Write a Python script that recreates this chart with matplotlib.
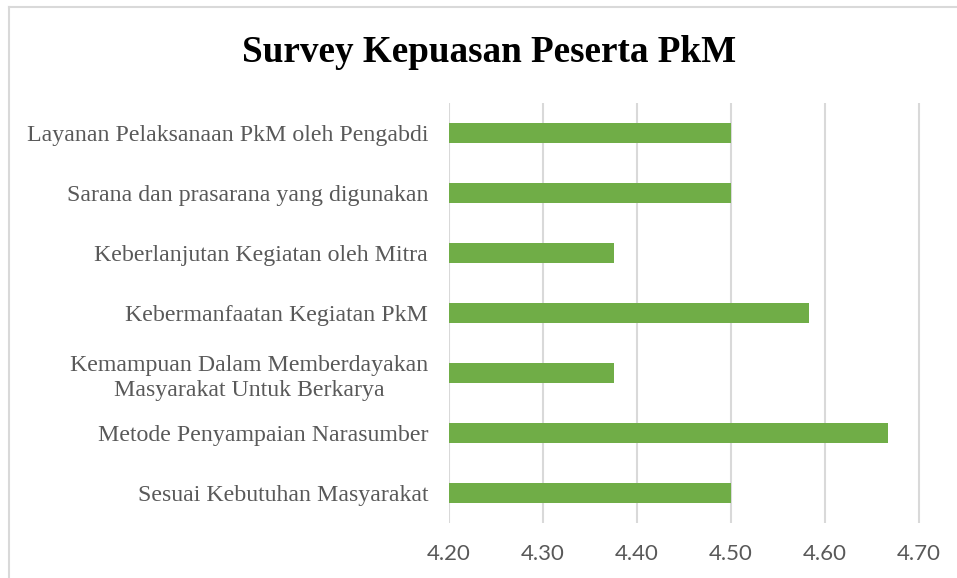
from matplotlib import pyplot as plt
from matplotlib.lines import Line2D

# categories top to bottom as shown in the chart
labels = ['Layanan Pelaksanaan PkM oleh Pengabdi',
          'Sarana dan prasarana yang digunakan',
          'Keberlanjutan Kegiatan oleh Mitra',
          'Kebermanfaatan Kegiatan PkM',
          'Kemampuan Dalam Memberdayakan\nMasyarakat Untuk Berkarya',
          'Metode Penyampaian Narasumber',
          'Sesuai Kebutuhan Masyarakat']
scores = [4.50, 4.50, 4.375, 4.583, 4.375, 4.667, 4.50]
xticks = [4.20, 4.30, 4.40, 4.50, 4.60, 4.70]

fig = plt.figure(figsize=(9.57, 5.78), dpi=100)
ax = fig.add_axes([449/957, 1 - 523/578, (957 - 449)/957, 420/578])

pos = list(range(len(labels)))[::-1]
ax.barh(pos, [s - 4.2 for s in scores], left=4.2, height=1/3, color='#70AD47', zorder=3)

ax.set_xlim(4.2, 4.2 + (957 - 449) / 940)
ax.set_ylim(-0.5, len(labels) - 0.5)
ax.set_xticks(xticks)
ax.set_xticklabels(['%.2f' % t for t in xticks], fontsize=16, color='#595959', family='Lato')
ax.set_yticks(pos)
ax.set_yticklabels(labels, fontsize=17.2, color='#595959', family='Liberation Serif',
                   multialignment='center', linespacing=1.3)
ax.tick_params(length=0)
ax.tick_params(axis='x', pad=15)
ax.tick_params(axis='y', pad=15)
for s in ax.spines.values():
    s.set_visible(False)
ax.grid(axis='x', color='#D9D9D9', linewidth=1.5, zorder=0)

fig.text(489/957, 1 - 53/578, 'Survey Kepuasan Peserta PkM', ha='center', va='center',
         fontsize=26.7, fontweight='bold', family='Liberation Serif')

# chart frame lines (top and left)
fig.add_artist(Line2D([9/957, 1], [1 - 7/578, 1 - 7/578], color='#D9D9D9', linewidth=1.5))
fig.add_artist(Line2D([9/957, 9/957], [0, 1 - 7/578], color='#D9D9D9', linewidth=1.5))

fig.savefig('out.png', dpi=100)
